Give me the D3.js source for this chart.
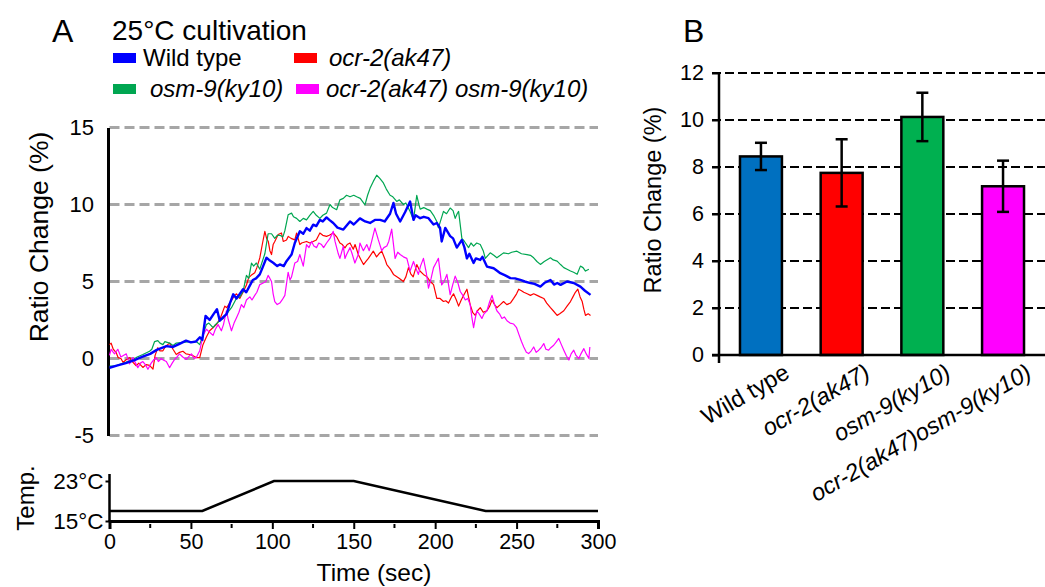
<!DOCTYPE html>
<html><head><meta charset="utf-8">
<script src="https://cdn.jsdelivr.net/npm/d3@7"></script>
<style>
body{margin:0;background:#fff;}
text{font-family:"Liberation Sans",Arial,sans-serif;fill:#000;}
</style></head>
<body><svg id="c" width="1045" height="587"></svg>
<script>
// ---------- DATA ----------
const seriesNames = ["Wild type","ocr-2(ak47)","osm-9(ky10)","ocr-2(ak47) osm-9(ky10)"];
const seriesColors = ["#0000ff","#ff0000","#00a651","#ff00ff"];
const yTicksA = [-5,0,5,10,15];
const xTicksMajor = [0,50,100,150,200,250,300];
const xTicksMinor = [25,75,125,175,225,275];
const tempTimes = [0,57,101,150,231,300];
const tempValues = [17,17,23,23,17,17];
const tempTicks = [15,23];

const wildType = [[0,-0.6],[5,-0.45],[10,-0.3],[15,-0.12],[20,0.1],[25,0.3],[29,0.56],[35,0.8],[39,0.75],[43,0.95],[47,1.16],[50,1.05],[53,1.1],[55.5,1.38],[57,1.2],[59,2.77],[61.5,2.5],[64,2.9],[66,3.2],[67.7,2.45],[70,2.7],[72,2.9],[74,3.6],[76,4.17],[78,3.9],[80,4.2],[82,4.5],[84,4.3],[86,4.7],[88,5.1],[90,5.2],[92.3,5.46],[94,5.9],[96.4,6.54],[98,6.4],[100.5,6.22],[103,6.0],[104.6,6.11],[107,6.0],[108.7,6.32],[111.8,6.75],[113.8,7.5],[116.9,8.26],[119,8.1],[121,8.47],[123,8.3],[125.1,8.69],[127,8.6],[129.2,9.0],[131,8.9],[133.3,9.16],[135,9.0],[137.4,8.8],[140,8.5],[143.6,8.37],[147.7,8.9],[150,8.7],[153.8,9.1],[157,8.9],[160,8.8],[163,9.0],[166.2,9.0],[169,8.9],[172.3,9.4],[174.4,10.1],[176,9.4],[178.5,8.9],[181.5,9.5],[184.6,10.19],[186.7,9.0],[188,9.3],[190.8,9.11],[193,9.2],[195.9,9.11],[199,8.7],[201,8.8],[203,8.48],[204,7.6],[206.2,8.48],[209.2,7.95],[211,7.8],[213.3,7.2],[216.4,7.7],[218,7.2],[219.5,6.5],[221,6.8],[223.6,6.2],[225,6.5],[227.7,6.4],[229,6.6],[231.8,5.97],[235.9,5.86],[238,5.7],[240,5.54],[243,5.4],[246.2,5.22],[249,5.2],[252.3,5.1],[255,5.0],[258.5,4.9],[261,4.85],[264.6,4.67],[267,4.9],[270.8,5.1],[273,4.8],[275,4.9],[277,4.78],[281,5.0],[285.1,4.9],[289.2,4.67],[292,4.4],[295.4,4.13]];

const ocr2 = [[0,0.9],[1,1.0],[2.3,0.6],[4,0.4],[5.3,0.06],[7,0.0],[8.4,-0.26],[10,-0.1],[12.5,0.06],[14,-0.2],[16.4,-0.47],[18,-0.3],[20.5,-0.58],[22.5,-0.4],[24.6,-0.45],[26.7,-0.69],[28,0.2],[29.7,0.7],[31,0.5],[32.8,0.5],[34.5,0.8],[36.9,1.0],[39,0.6],[41,0.26],[43,0.4],[45.1,0.47],[47,0.3],[49.2,0.26],[51,0.2],[53.3,0.06],[55.4,0.06],[57.4,0.9],[59.5,1.4],[61.5,1.8],[63.5,2.0],[65.6,2.2],[68,2.6],[70.8,3.4],[72,3.3],[73.8,3.6],[76.9,4.1],[78,4.2],[80,3.9],[82,4.3],[84.1,4.77],[85.5,5.25],[87,5.4],[89.2,5.57],[90.5,5.9],[92.3,6.53],[94,7.5],[95.4,8.26],[96.5,7.8],[97.5,7.6],[98.5,7.0],[99.5,6.75],[100.5,7.4],[101.5,7.6],[103.6,8.05],[105.6,8.15],[106.7,7.6],[108.7,7.7],[109.8,7.93],[111.5,7.8],[113.8,7.7],[114.9,8.15],[116.9,7.4],[118,7.5],[121,7.6],[123,7.5],[125.1,7.6],[127,7.7],[129.2,8.15],[131,8.0],[133.3,7.93],[135,8.0],[137.4,8.15],[139.5,7.9],[141.5,7.5],[143,7.4],[144.6,7.18],[146,7.4],[147.7,7.5],[149.7,7.1],[150.8,7.4],[152.8,6.75],[154.5,6.4],[156,6.1],[157.5,6.3],[159,6.5],[162,6.97],[164,6.6],[165.5,6.8],[167.2,6.97],[169,6.5],[170.3,6.1],[172.5,5.8],[174.4,5.46],[177.4,5.25],[180.5,5.0],[182,5.3],[183.6,5.9],[185,5.5],[186.5,5.3],[188.7,6.1],[190.5,5.7],[192.8,5.46],[195,5.3],[197,5.0],[199,4.8],[201,3.9],[203,3.9],[205.1,3.7],[206.5,3.75],[208.2,3.6],[210,4.0],[211.3,4.2],[213,3.8],[214.4,3.4],[216,3.8],[218,4.2],[219.5,4.5],[221.5,3.5],[223,3.0],[224.6,2.8],[226,3.1],[227.7,3.3],[229.5,3.0],[231.8,3.1],[233.5,3.4],[234.9,3.8],[236.5,3.5],[237.9,3.3],[240,3.5],[242,3.7],[244,3.5],[246.2,3.6],[248.2,3.9],[250,4.2],[251.3,4.5],[253,4.4],[254.4,4.3],[256.5,4.2],[258.5,4.1],[260.5,4.2],[262.6,4.1],[264.5,4.0],[266.7,3.9],[268.5,3.6],[270.8,3.3],[272.5,3.1],[274.9,2.8],[276.5,2.9],[279,3.1],[281,3.4],[283.1,3.7],[284.6,4.0],[286.1,4.3],[287.6,4.5],[289,4.0],[290.3,3.7],[291.3,3.2],[292.3,2.8],[294,2.9],[295.4,2.8]];

const osm9 = [[0,-0.5],[3,-0.5],[6,-0.4],[10,-0.25],[14.4,-0.06],[17,0.1],[20.5,0.26],[24.6,0.47],[26,0.6],[27.7,1.1],[29.7,1.16],[31,1.0],[32.8,0.9],[34,1.1],[36.9,1.0],[39,0.85],[41,1.0],[45,1.05],[49.2,1.1],[53.3,1.1],[55.4,0.9],[57,1.4],[59.5,2.2],[61,2.3],[63.6,2.0],[65,2.2],[67.7,2.45],[70,2.6],[71.8,2.88],[74.9,3.3],[77.9,3.9],[80,4.0],[82,4.34],[84.1,5.4],[85.5,5.2],[87.2,6.2],[88.5,6.0],[90.2,6.2],[92.3,5.8],[95.4,6.8],[97.4,8.1],[99.5,8.1],[101.5,7.8],[103,8.0],[104.6,8.0],[106.5,7.9],[107.7,8.3],[109.7,9.33],[111.8,9.44],[113,9.2],[114.9,9.1],[116.9,8.9],[119,9.1],[121,9.0],[123,9.3],[125.1,9.55],[127,9.3],[129.2,9.1],[131,9.3],[133.3,9.44],[135.4,10.0],[137,9.8],[139.5,9.66],[141.5,10.3],[143.6,10.4],[145.6,10.6],[147.7,10.5],[150,10.6],[151.8,10.5],[154,10.4],[156.9,9.98],[158.5,10.6],[160,11.05],[162,11.5],[164.1,11.9],[166,11.7],[168.2,11.4],[170,11.0],[172.3,10.6],[174,10.5],[176.4,10.2],[178,10.3],[180.5,10.0],[182,10.1],[184.6,9.55],[186.7,9.0],[188.7,10.6],[190,10.0],[190.8,9.7],[193,9.8],[194.9,9.7],[197,9.6],[199,9.3],[201,8.9],[202,8.48],[203.5,9.0],[205.1,9.55],[207,9.4],[209.2,9.77],[211,9.6],[212.3,9.1],[213.5,9.4],[214.4,9.55],[216.4,7.8],[218,7.6],[220.5,7.2],[222,7.5],[223.6,7.3],[225.5,7.5],[227.7,7.4],[229.5,7.0],[230.8,6.5],[233.8,6.86],[236,6.7],[237.9,6.54],[240,6.7],[242,6.86],[245,6.8],[247,6.9],[250.2,6.97],[253,6.8],[256.4,6.75],[258.5,6.7],[260.5,6.54],[262.5,6.3],[264.6,6.11],[267,6.3],[270.8,6.54],[272.5,6.4],[274.9,6.32],[277,6.1],[279,5.9],[281,5.8],[283.1,5.68],[285,5.6],[287.2,5.47],[289.2,6.0],[290.8,5.9],[292.3,5.68],[294.4,5.8]];

const double = [[0,0.2],[1,0.6],[2,0.45],[3.1,0.3],[5.1,0.6],[7,0.1],[8.5,0.2],[10.3,0.3],[12.3,-0.35],[14.4,0.06],[16,-0.3],[17.4,-0.6],[19,-0.3],[20.5,-0.2],[22,-0.4],[23.6,-0.7],[25.6,-0.3],[27,-0.1],[28.7,0.06],[30,-0.2],[31.8,0.0],[33,-0.1],[34.9,-0.2],[36.9,-0.6],[38.5,-0.3],[40,-0.06],[41.5,0.1],[43,0.3],[45,0.1],[47.2,-0.06],[48.5,0.1],[50.3,0.3],[52,0.0],[53.3,0.06],[55.4,0.5],[57.4,1.5],[59.5,1.9],[61.5,1.7],[63.6,1.5],[65,1.9],[66.7,2.2],[68.7,1.8],[70,2.2],[71.8,3.1],[73,2.5],[74.9,1.8],[76.5,2.3],[78,2.65],[79.5,3.0],[81,3.5],[82.5,3.3],[84.1,3.8],[86.2,4.0],[87.5,3.8],[89.2,4.1],[90.5,4.3],[92.3,4.8],[94.4,4.9],[96,5.0],[97.4,5.4],[98.5,5.2],[99.5,5.0],[100.5,4.2],[101.5,3.7],[103,3.5],[104.6,3.6],[106,3.8],[107.7,4.1],[109.7,5.6],[110.8,5.1],[111.8,5.3],[113.8,6.2],[115.5,6.3],[116.9,6.75],[119,6.0],[121,7.4],[122.5,7.2],[124.1,7.6],[125.5,7.3],[127.2,7.2],[128.5,7.5],[130.2,7.4],[131.5,7.2],[133.3,7.5],[135.4,7.8],[137.4,8.26],[138.5,7.6],[139.5,7.2],[140.5,6.8],[141.5,6.5],[143.6,7.3],[144.6,6.5],[145.6,6.75],[147.7,7.2],[149,6.8],[150.7,6.2],[152.8,6.75],[153.8,7.5],[155.9,7.0],[158,7.4],[159.5,7.0],[161,7.6],[163,8.47],[165.1,7.7],[167.2,7.0],[168.5,7.2],[170.3,7.3],[171.5,7.6],[173.3,8.4],[175.4,6.5],[177,6.9],[178.5,6.75],[180.5,6.6],[182.6,6.5],[184.6,5.68],[186.7,6.3],[188,5.9],[189.7,5.46],[191,6.0],[192.8,6.5],[194.5,5.6],[195.9,4.57],[197.5,5.2],[199,5.9],[200.5,6.2],[202,6.5],[204,4.78],[205.5,5.0],[207.2,5.46],[208.2,4.8],[209.2,4.14],[210.8,4.8],[212.3,5.35],[214,4.9],[215.4,4.35],[217,4.1],[218.5,3.8],[220,3.9],[221.5,3.5],[222.5,2.7],[223.6,2.0],[224.6,2.6],[225.6,3.1],[227,2.9],[228.7,2.6],[230,2.9],[231.8,3.1],[233.5,3.7],[234.9,4.1],[236.5,3.5],[237.9,3.1],[239.5,2.9],[241,2.6],[242.5,2.7],[244.1,2.45],[246,2.3],[248.2,2.24],[250,2.0],[251.3,1.6],[253,1.1],[254.4,0.75],[256,0.4],[257.4,0.32],[259,0.5],[260.5,0.75],[262,0.4],[263.6,0.54],[265,0.7],[266.7,0.97],[268,0.6],[269.7,0.54],[271,0.7],[272.8,0.86],[274.5,1.1],[275.9,1.3],[277.5,0.9],[279,0.54],[280.5,0.2],[282.1,-0.1],[283.5,0.3],[285.1,0.54],[286.5,0.2],[288.2,0.0],[289.5,0.3],[291.3,0.64],[292.8,0.3],[294.4,0.0],[295,0.75]];

const barCategories = ["Wild type","ocr-2(ak47)","osm-9(ky10)","ocr-2(ak47)osm-9(ky10)"];
const barValues = [8.45,7.75,10.13,7.18];
const barErrors = [0.58,1.43,1.03,1.09];
const barColors = ["#0070c0","#ff0000","#00b050","#ff00ff"];
const yTicksB = [0,2,4,6,8,10,12];

// ---------- DRAW ----------
const svg = d3.select("#c");
const FONT = "Liberation Sans, Arial, sans-serif";

// Panel A scales
const x = d3.scaleLinear().domain([0,300]).range([109.5,598]);
const y = d3.scaleLinear().domain([-5,15]).range([435.5,127.5]);
const yT = d3.scaleLinear().domain([15,23]).range([521,481]);

// gridlines A
svg.append("g").selectAll("line").data(yTicksA).join("line")
  .attr("x1",x(0)).attr("x2",x(300)).attr("y1",d=>y(d)).attr("y2",d=>y(d))
  .attr("stroke","#a6a6a6").attr("stroke-width",3).attr("stroke-dasharray","10,5");

// y axis A
const gyA = svg.append("g").attr("transform",`translate(${x(0)-1.5},0)`)
  .call(d3.axisLeft(y).tickValues(yTicksA).tickSize(0).tickPadding(14).tickFormat(d=>String(d)));
gyA.select(".domain").attr("stroke","#000").attr("stroke-width",3);
gyA.selectAll("text").style("font-size","22px").style("font-family",FONT);

// lines
const line = d3.line().x(d=>x(d[0])).y(d=>y(d[1]));
const allSeries = [ocr2, osm9, double, wildType];
const allColors = [seriesColors[1],seriesColors[2],seriesColors[3],seriesColors[0]];
const allWidths = [1.2,1.2,1.2,2.4];
svg.append("g").selectAll("path").data(allSeries).join("path")
  .attr("d",line).attr("fill","none")
  .attr("stroke",(d,i)=>allColors[i]).attr("stroke-width",(d,i)=>allWidths[i])
  .attr("stroke-linejoin","round");

// axis label A
svg.append("text").attr("transform",`translate(48,237) rotate(-90)`)
  .attr("text-anchor","middle").style("font-size","26.5px").text("Ratio Change (%)");

// title & legend
svg.append("text").attr("x",52).attr("y",42).style("font-size","32px").text("A");
svg.append("text").attr("x",112).attr("y",40).style("font-size","28px").text("25°C cultivation");
const legendPos = [[113,58],[294,58],[113,89],[296,89]];
const legendTextX = [143,329,150,326];
seriesNames.forEach((n,i)=>{
  svg.append("rect").attr("x",legendPos[i][0]).attr("y",legendPos[i][1]-5).attr("width",23).attr("height",10)
    .attr("fill",seriesColors[i]);
  svg.append("text").attr("x",legendTextX[i]).attr("y",legendPos[i][1]+8)
    .style("font-size","24px").style("font-style",i===0?"normal":"italic").text(n);
});

// temperature panel
const tempLine = d3.line().x((d,i)=>x(tempTimes[i])).y(d=>yT(d));
svg.append("path").datum(tempValues).attr("d",tempLine).attr("fill","none")
  .attr("stroke","#000").attr("stroke-width",2.5);
svg.append("line").attr("x1",x(0)).attr("x2",x(0)).attr("y1",yT(15)).attr("y2",yT(24.4))
  .attr("stroke","#000").attr("stroke-width",2.5);
const gyT = svg.append("g").attr("transform",`translate(${x(0)},0)`)
  .call(d3.axisLeft(yT).tickValues(tempTicks).tickSize(4).tickPadding(2).tickFormat(d=>d+"°C"));
gyT.select(".domain").remove();
gyT.selectAll("line").attr("stroke-width",2);
gyT.selectAll("text").style("font-size","22.5px").style("font-family",FONT);
svg.append("text").attr("transform",`translate(34,498) rotate(-90)`)
  .attr("text-anchor","middle").style("font-size","24px").text("Temp.");

const gx = svg.append("g").attr("transform",`translate(0,${yT(15)})`)
  .call(d3.axisBottom(x).tickValues(xTicksMajor).tickSize(8).tickPadding(5));
gx.select(".domain").attr("stroke-width",3);
gx.selectAll("line").attr("stroke-width",2);
gx.selectAll("text").style("font-size","21.5px").style("font-family",FONT);
svg.append("g").selectAll("line").data(xTicksMinor).join("line")
  .attr("x1",d=>x(d)).attr("x2",d=>x(d)).attr("y1",yT(15)+3).attr("y2",yT(15)+7)
  .attr("stroke","#000").attr("stroke-width",2);
svg.append("text").attr("x",374).attr("y",581).attr("text-anchor","middle")
  .style("font-size","24.5px").text("Time (sec)");

// Panel B
const xb = d3.scaleBand().domain(barCategories).range([719,1045]).paddingInner(0.48).paddingOuter(0.26);
const yb = d3.scaleLinear().domain([0,12]).range([355,73]);

svg.append("g").selectAll("line").data(yTicksB.filter(d=>d>0)).join("line")
  .attr("x1",712).attr("x2",1045).attr("y1",d=>yb(d)).attr("y2",d=>yb(d))
  .attr("stroke","#000").attr("stroke-width",2).attr("stroke-dasharray","9,4");

const gyB = svg.append("g").attr("transform","translate(719,0)")
  .call(d3.axisLeft(yb).tickValues(yTicksB).tickSize(7).tickPadding(8));
gyB.select(".domain").remove();
gyB.selectAll("line").attr("stroke-width",2);
gyB.selectAll("text").style("font-size","21.5px").style("font-family",FONT);

svg.append("g").selectAll("rect").data(barValues).join("rect")
  .attr("x",(d,i)=>xb(barCategories[i])).attr("width",xb.bandwidth())
  .attr("y",d=>yb(d)).attr("height",d=>yb(0)-yb(d))
  .attr("fill",(d,i)=>barColors[i]).attr("stroke","#000").attr("stroke-width",2.5);

// axis lines B
svg.append("line").attr("x1",719).attr("x2",719).attr("y1",yb(12)).attr("y2",yb(0)+8)
  .attr("stroke","#000").attr("stroke-width",2.5);
svg.append("line").attr("x1",712).attr("x2",1045).attr("y1",yb(0)).attr("y2",yb(0))
  .attr("stroke","#000").attr("stroke-width",2.5);

// error bars
const eb = svg.append("g");
barValues.forEach((v,i)=>{
  const cx = xb(barCategories[i]) + xb.bandwidth()/2;
  eb.append("line").attr("x1",cx).attr("x2",cx).attr("y1",yb(v-barErrors[i])).attr("y2",yb(v+barErrors[i]))
    .attr("stroke","#000").attr("stroke-width",2.5);
  [v-barErrors[i], v+barErrors[i]].forEach(e=>{
    eb.append("line").attr("x1",cx-6).attr("x2",cx+6).attr("y1",yb(e)).attr("y2",yb(e))
      .attr("stroke","#000").attr("stroke-width",2.5);
  });
});

// category labels
barCategories.forEach((c,i)=>{
  const cx = xb(c) + xb.bandwidth()/2;
  const t = svg.append("text").attr("transform",`translate(${cx+30},${yb(0)+22}) rotate(-30)`)
    .attr("text-anchor","end").style("font-size","23.5px");
  if(i===0){ t.text(c); }
  else { t.style("font-style","italic").text(c); }
});

svg.append("text").attr("transform",`translate(661,200) rotate(-90)`)
  .attr("text-anchor","middle").style("font-size","23.5px").text("Ratio Change (%)");
svg.append("text").attr("x",683).attr("y",42).style("font-size","32px").text("B");
</script></body></html>
